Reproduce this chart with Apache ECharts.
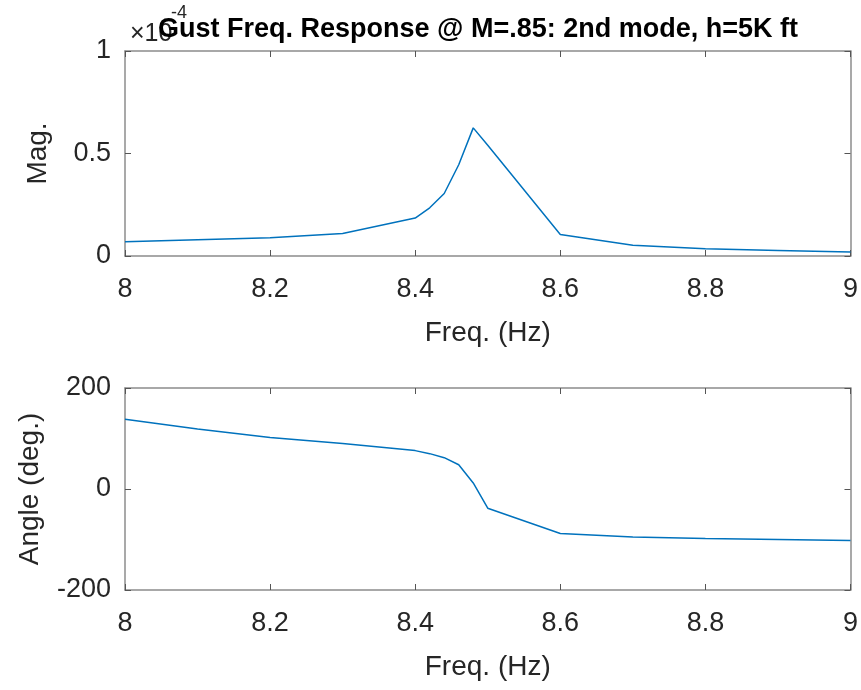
<!DOCTYPE html>
<html>
<head>
<meta charset="utf-8">
<script src="https://cdn.jsdelivr.net/npm/echarts@6/dist/echarts.min.js"></script>
<style>
  html, body { margin: 0; padding: 0; background: #fff; }
  #chart { width: 861px; height: 690px; }
</style>
</head>
<body>
<div id="chart"></div>
<script>
// 頻率 (Hz)
const freq = [8.0, 8.1, 8.2, 8.3, 8.4, 8.42, 8.44, 8.46, 8.48, 8.5, 8.6, 8.7, 8.8, 8.9, 9.0];
// 幅值 (x 1e-4)
const mag = [0.07, 0.079, 0.089, 0.11, 0.185, 0.235, 0.305, 0.445, 0.625, 0.54, 0.105, 0.053, 0.035, 0.027, 0.02];
// 相位 (deg.)
const angle = [138, 119, 102, 90, 76, 70, 62, 48, 12, -38, -88, -95, -98, -100, -102];

const titleText = 'Gust Freq. Response @ M=.85: 2nd mode, h=5K ft';
const xName = 'Freq. (Hz)';

const FONT = '"Liberation Sans", Arial, Helvetica, sans-serif';
const BOX = '#8c8c8c';
const TXT = '#262626';
const LINE = '#0072BD';

function mainX(grid) {
    return {
        type: 'value', gridIndex: grid, min: 8, max: 9, interval: 0.2,
        name: xName, nameLocation: 'middle', nameGap: 63,
        nameTextStyle: { fontFamily: FONT, fontSize: 28, color: TXT },
        axisLine: { show: true, onZero: false, lineStyle: { color: BOX, width: 1.5 } },
        axisTick: { show: true, inside: true, length: 6, lineStyle: { color: '#555' } },
        axisLabel: { fontFamily: FONT, fontSize: 27, color: TXT, margin: 20 },
        splitLine: { show: false }
    };
}
function boxX(grid) {
    return {
        type: 'value', gridIndex: grid, min: 8, max: 9, interval: 0.2, position: 'top',
        axisLine: { show: true, onZero: false, lineStyle: { color: BOX, width: 1.5 } },
        axisTick: { show: true, inside: true, length: 6, lineStyle: { color: '#555' } },
        axisLabel: { show: false }, splitLine: { show: false }
    };
}
function mainY(grid, min, max, interval, name, gap) {
    return {
        type: 'value', gridIndex: grid, min: min, max: max, interval: interval,
        name: name, nameLocation: 'middle', nameGap: gap,
        nameTextStyle: { fontFamily: FONT, fontSize: 28, color: TXT },
        axisLine: { show: true, onZero: false, lineStyle: { color: BOX, width: 1.5 } },
        axisTick: { show: true, inside: true, length: 6, lineStyle: { color: '#555' } },
        axisLabel: { fontFamily: FONT, fontSize: 27, color: TXT, margin: 14 },
        splitLine: { show: false }
    };
}
function boxY(grid, min, max, interval) {
    return {
        type: 'value', gridIndex: grid, min: min, max: max, interval: interval, position: 'right',
        axisLine: { show: true, onZero: false, lineStyle: { color: BOX, width: 1.5 } },
        axisTick: { show: true, inside: true, length: 6, lineStyle: { color: '#555' } },
        axisLabel: { show: false }, splitLine: { show: false }
    };
}

const chart = echarts.init(document.getElementById('chart'));
chart.setOption({
    animation: false,
    backgroundColor: '#fff',
    grid: [
        { left: 125, right: 9, top: 51, height: 205 },
        { left: 125, right: 9, top: 388, height: 202 }
    ],
    xAxis: [mainX(0), boxX(0), mainX(1), boxX(1)],
    yAxis: [
        mainY(0, 0, 1, 0.5, 'Mag.', 73),
        boxY(0, 0, 1, 0.5),
        mainY(1, -200, 200, 200, 'Angle (deg.)', 81),
        boxY(1, -200, 200, 200)
    ],
    graphic: [
        { type: 'text', left: 130, top: 22, z: 1,
          style: { text: '\u00d710', fontFamily: FONT, fontSize: 25, fill: TXT } },
        { type: 'text', left: 171, top: 4, z: 1,
          style: { text: '-4', fontFamily: FONT, fontSize: 18, fill: TXT } },
        { type: 'text', z: 10,
          style: { x: 478, y: 16, text: titleText, fontFamily: FONT, fontSize: 27, fontWeight: 'bold',
                   fill: '#000', align: 'center', verticalAlign: 'top' } }
    ],
    series: [
        {
            type: 'line', xAxisIndex: 0, yAxisIndex: 0,
            data: freq.map((f, i) => [f, mag[i]]),
            showSymbol: false, lineStyle: { color: LINE, width: 1.5 }
        },
        {
            type: 'line', xAxisIndex: 2, yAxisIndex: 2,
            data: freq.map((f, i) => [f, angle[i]]),
            showSymbol: false, lineStyle: { color: LINE, width: 1.5 }
        }
    ]
});
</script>
</body>
</html>
